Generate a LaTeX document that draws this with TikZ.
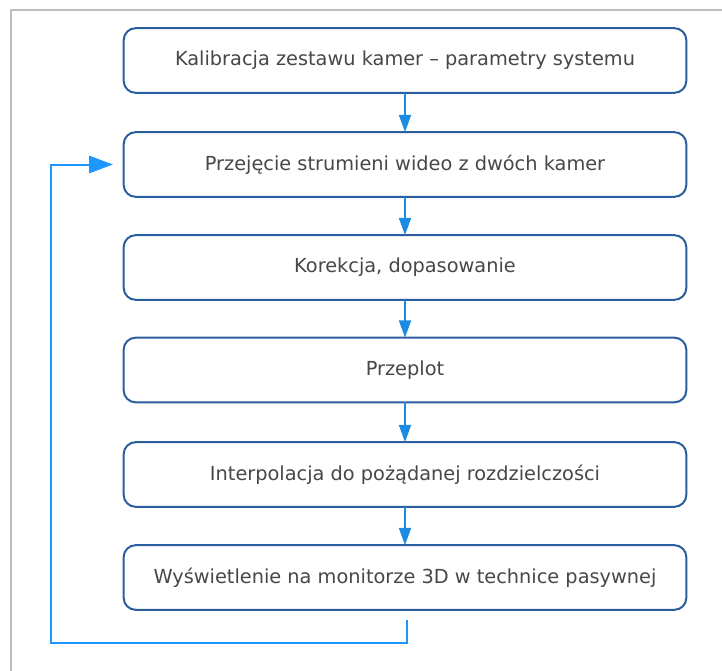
\documentclass[tikz,border=0pt]{standalone}
\usepackage{fontspec}
\setmainfont{DejaVu Sans}
\usetikzlibrary{arrows.meta}

\definecolor{boxline}{HTML}{2B5E9E}
\definecolor{flowline}{HTML}{1C8CE3}
\definecolor{looplinecol}{HTML}{1E96FF}
\definecolor{textgray}{HTML}{474747}
\definecolor{framegray}{HTML}{BDBDBD}

\tikzset{
	stagebox/.style={draw=boxline,line width=1.5pt,rounded corners=9pt,fill=white,
		minimum width=422pt,minimum height=48.5pt,inner sep=0,outer sep=0,
		text=textgray,font=\fontsize{14.5}{17}\selectfont},
	flowarrow/.style={draw=flowline,line width=1.5pt,-{Triangle[length=13pt,width=9pt]}},
	loopline/.style={draw=looplinecol,line width=1.5pt,-{Triangle[length=18pt,width=13pt]},shorten >=8pt}
}

\begin{document}
\begin{tikzpicture}[x=0.75pt,y=-0.75pt]
	\useasboundingbox (0,0) rectangle (722,671);
	\draw[framegray,line width=1.2pt] (11,671) -- (11,10) -- (722,10);
	\node[stagebox] (kalib) at (405,60.5) {Kalibracja zestawu kamer – parametry systemu};
	\node[stagebox] (przej) at (405,164.5) {Przejęcie strumieni wideo z dwóch kamer};
	\node[stagebox] (korek) at (405,267.5) {Korekcja, dopasowanie};
	\node[stagebox] (plot) at (405,370) {Przeplot};
	\node[stagebox] (interp) at (405,474.5) {Interpolacja do pożądanej rozdzielczości};
	\node[stagebox] (wysw) at (405,577.5) {Wyświetlenie na monitorze 3D w technice pasywnej};
	\draw[flowarrow] (kalib) -- (przej);
	\draw[flowarrow] (przej) -- (korek);
	\draw[flowarrow] (korek) -- (plot);
	\draw[flowarrow] (plot) -- (interp);
	\draw[flowarrow] (interp) -- (wysw);
	\coordinate (loopstart) at (407,620);
	\coordinate (loopcorner) at (51,643);
	\draw[loopline] (loopstart) |- (loopcorner) |- (przej.west);
\end{tikzpicture}
\end{document}
